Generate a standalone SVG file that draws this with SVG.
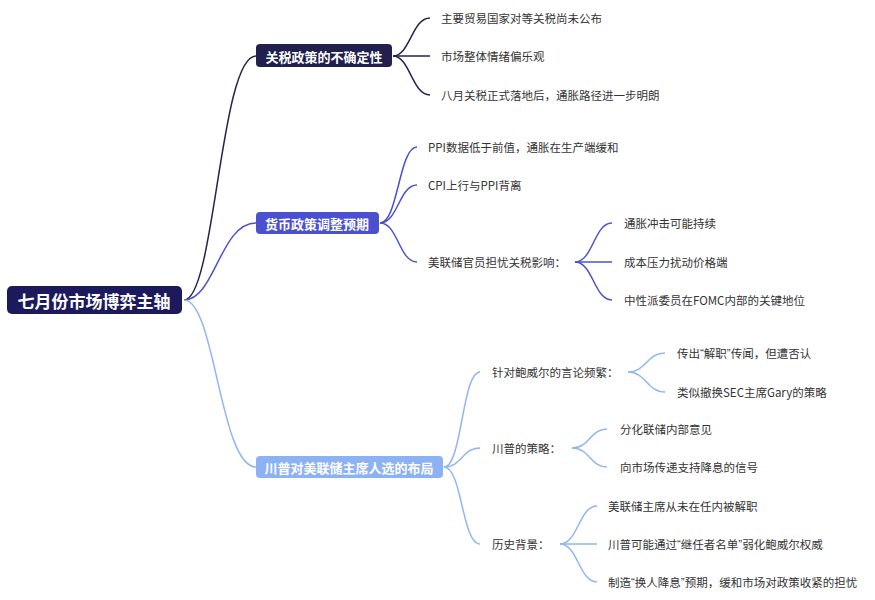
<svg xmlns="http://www.w3.org/2000/svg" width="875" height="600" viewBox="0 0 875 600">
<style>
text{font-family:"Noto Sans CJK SC","Noto Sans",sans-serif;dominant-baseline:central}
.root{font-size:17px;font-weight:bold;fill:#fff;text-anchor:middle}
.br{font-size:13px;font-weight:bold;fill:#fff;text-anchor:middle}
.lf{font-size:11.5px;fill:#333}
.q{font-family:"Liberation Sans",sans-serif}
.c1{fill:none;stroke:#25244f;stroke-width:1.5}
.c2{fill:none;stroke:#4c52cc;stroke-width:1.5}
.c3{fill:none;stroke:#92b6f2;stroke-width:1.5}
</style>
<rect width="875" height="600" fill="#fff"/>
<g id="connectors">
<path class="c1" d="M184,300 C215,300 220,56 256,56"/>
<path class="c2" d="M184,300 C215,300 220,223 256,223"/>
<path class="c3" d="M184,300 C215,300 220,467 256,467"/>
<path class="c1" d="M393,56 C410,56 412,18 430,18"/>
<path class="c1" d="M393,56 L430,56"/>
<path class="c1" d="M393,56 C410,56 412,95 430,95"/>
<path class="c2" d="M380,223 C398,223 399,147 417,147"/>
<path class="c2" d="M380,223 C398,223 399,185 417,185"/>
<path class="c2" d="M380,223 C398,223 399,262 417,262"/>
<path class="c2" d="M575,262 C593,262 594,223 612,223"/>
<path class="c2" d="M575,262 L612,262"/>
<path class="c2" d="M575,262 C593,262 594,300 612,300"/>
<path class="c3" d="M444,467 C462,467 462,372 480,372"/>
<path class="c3" d="M444,467 C462,467 462,448 480,448"/>
<path class="c3" d="M444,467 C462,467 462,544 480,544"/>
<path class="c3" d="M628,372 C646,372 647,353 665,353"/>
<path class="c3" d="M628,372 C646,372 647,392 665,392"/>
<path class="c3" d="M572,448 C590,448 590,429 607,429"/>
<path class="c3" d="M572,448 C590,448 590,467 607,467"/>
<path class="c3" d="M560,544 C578,544 579,506 597,506"/>
<path class="c3" d="M560,544 L597,544"/>
<path class="c3" d="M560,544 C578,544 579,582 597,582"/>
</g>
<g id="root"><rect x="7" y="286" width="175" height="28" rx="5" fill="#1c1a5c"/><text class="root" x="94" y="300">七月份市场博弈主轴</text></g>
<g id="b1"><rect x="256" y="44" width="136" height="23" rx="4" fill="#201f4e"/><text class="br" x="324" y="56">关税政策的不确定性</text></g>
<g id="b2"><rect x="256" y="212" width="123" height="22" rx="4" fill="#4a50ce"/><text class="br" x="317" y="223">货币政策调整预期</text></g>
<g id="b3"><rect x="256" y="456" width="187" height="22" rx="4" fill="#8db2f4"/><text class="br" x="349" y="467">川普对美联储主席人选的布局</text></g>
<g id="n11"><text class="lf" x="441" y="18">主要贸易国家对等关税尚未公布</text></g>
<g id="n12"><text class="lf" x="441" y="56">市场整体情绪偏乐观</text></g>
<g id="n13"><text class="lf" x="441" y="95">八月关税正式落地后，通胀路径进一步明朗</text></g>
<g id="n21"><text class="lf" x="428" y="147">PPI数据低于前值，通胀在生产端缓和</text></g>
<g id="n22"><text class="lf" x="428" y="185">CPI上行与PPI背离</text></g>
<g id="n23"><text class="lf" x="428" y="262">美联储官员担忧关税影响：</text></g>
<g id="n231"><text class="lf" x="624" y="223">通胀冲击可能持续</text></g>
<g id="n232"><text class="lf" x="624" y="262">成本压力扰动价格端</text></g>
<g id="n233"><text class="lf" x="624" y="300">中性派委员在FOMC内部的关键地位</text></g>
<g id="n31"><text class="lf" x="492" y="372">针对鲍威尔的言论频繁：</text></g>
<g id="n311"><text class="lf" x="677" y="353">传出<tspan class="q">“</tspan>解职<tspan class="q">”</tspan>传闻，但遭否认</text></g>
<g id="n312"><text class="lf" x="677" y="392">类似撤换SEC主席Gary的策略</text></g>
<g id="n32"><text class="lf" x="492" y="448">川普的策略：</text></g>
<g id="n321"><text class="lf" x="620" y="429">分化联储内部意见</text></g>
<g id="n322"><text class="lf" x="620" y="467">向市场传递支持降息的信号</text></g>
<g id="n33"><text class="lf" x="492" y="544">历史背景：</text></g>
<g id="n331"><text class="lf" x="608" y="506">美联储主席从未在任内被解职</text></g>
<g id="n332"><text class="lf" x="608" y="544">川普可能通过<tspan class="q">“</tspan>继任者名单<tspan class="q">”</tspan>弱化鲍威尔权威</text></g>
<g id="n333"><text class="lf" x="608" y="582">制造<tspan class="q">“</tspan>换人降息<tspan class="q">”</tspan>预期，缓和市场对政策收紧的担忧</text></g>
</svg>
